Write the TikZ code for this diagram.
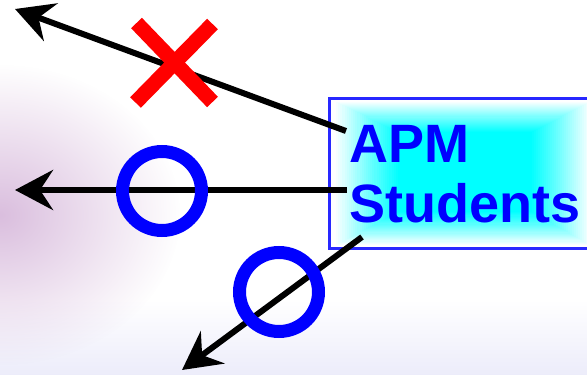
\documentclass[tikz,border=0pt]{standalone}
\usepackage{fontspec}
\setmainfont{Liberation Sans}
\usetikzlibrary{arrows.meta,fadings}
\definecolor{textblue}{RGB}{0,0,255}
\definecolor{boxblue}{RGB}{40,40,255}
\definecolor{bgpurple}{RGB}{218,190,222}
\definecolor{bglav}{RGB}{236,236,250}
\definecolor{glowcyan}{RGB}{0,255,255}
\tikzfading[name=softfade, inner color=transparent!0, outer color=transparent!100]
\begin{document}
\begin{tikzpicture}[x=1pt,y=-1pt,
  arrowline/.style={line width=6pt, -{Stealth[length=38pt,width=40pt,inset=13pt]}},
  ring/.style={draw=textblue, line width=13pt},
  cross/.style={draw=red, line width=15pt, line cap=butt},
  label/.style={font=\fontsize{54}{60}\selectfont\bfseries, text=textblue, inner sep=0pt, anchor=base west},
  boxstyle/.style={draw=boxblue, line width=2pt, fill=white, minimum width=266pt, minimum height=149pt, inner sep=0pt}]
\useasboundingbox (0,0) rectangle (587,375);
\fill[white] (0,0) rectangle (587,375);
\begin{scope}
\clip (0,0) rectangle (587,375);
\shade[top color=white, bottom color=bglav] (0,300) rectangle (587,375);
\fill[bgpurple, path fading=softfade] (0,215) ellipse [x radius=180, y radius=150];
% box
\node[boxstyle] (box) at (463,173.5) {};
\foreach \i in {0,...,29}{
  \pgfmathsetmacro{\t}{\i/29}
  \pgfmathsetmacro{\op}{1/(30-\i)}
  \pgfmathsetmacro{\xa}{336+62*\t}
  \pgfmathsetmacro{\ya}{102+30*\t}
  \pgfmathsetmacro{\xb}{590-58*\t}
  \pgfmathsetmacro{\yb}{245-33*\t}
  \fill[glowcyan, opacity=\op] (\xa,\ya) rectangle (\xb,\yb);
}
\draw[boxblue, line width=2pt] (box.north west) rectangle (box.south east);
\end{scope}
% text
\node[label] (apm) at (349,162) {APM};
\node[label] (stu) at (349.5,222) {Students};
% arrows
\coordinate (s1) at (346,131);
\coordinate (t1) at (15,9);
\coordinate (s2) at (347,190);
\coordinate (t2) at (15,190);
\coordinate (s3) at (362,237);
\coordinate (t3) at (182,370);
\draw[arrowline] (s1) -- (t1);
\draw[arrowline] (s2) -- (t2);
\draw[arrowline] (s3) -- (t3);
% marks
\draw[cross] (136.5,23) -- (212.5,102);
\draw[cross] (212.5,24) -- (135.5,102.5);
\draw[ring] (162,191) circle [radius=39.5];
\draw[ring] (279,292) circle [radius=39.5];
\end{tikzpicture}
\end{document}
